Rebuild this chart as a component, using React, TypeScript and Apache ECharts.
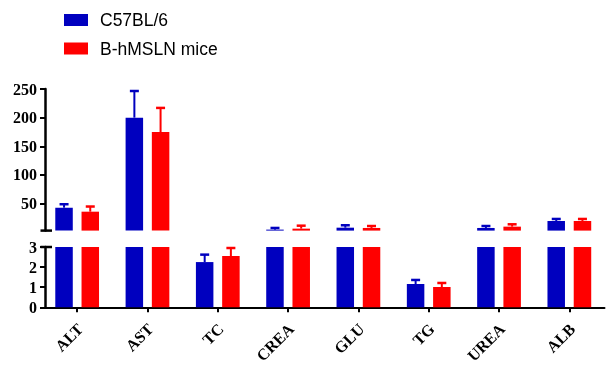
import React, { useEffect, useRef } from "react";
import * as echarts from "echarts";

const categories = ["ALT", "AST", "TC", "CREA", "GLU", "TG", "UREA", "ALB"];
const seriesNames = ["C57BL/6", "B-hMSLN mice"];
const c57Mean = [43, 200, 2.25, 4.7, 8.1, 1.16, 7.6, 19.8];
const c57Err = [6, 46.5, 0.37, 2.9, 4.2, 0.2, 3.4, 3.5];
const hmMean = [36, 175, 2.55, 6.4, 7.6, 1.01, 9.9, 19.8];
const hmErr = [9, 42, 0.4, 5.2, 3.4, 0.2, 4.1, 3.5];
const upperRange = [3, 250];
const lowerRange = [0, 3];
const lowerTickInterval = 1;

const BLUE = "#0000BF";
const RED = "#FF0000";
const SERIF = "'Liberation Serif', 'Times New Roman', serif";
const SANS = "'Liberation Sans', Arial, sans-serif";

const BAR_W = 17.5;
const OFFSET = 13.1;

function errRender(offset: number, color: string, lo: number, hi: number) {
  return (params: any, api: any) => {
    const v = api.value(1);
    const e = api.value(2);
    if (!(v > lo && v <= hi)) return null;
    const idx = api.value(0);
    const p0 = api.coord([idx, v]);
    const p1 = api.coord([idx, Math.min(v + e, hi)]);
    const x = p0[0] + offset;
    return {
      type: "group",
      children: [
        { type: "line", shape: { x1: x, y1: p0[1], x2: x, y2: p1[1] }, style: { stroke: color, lineWidth: 2 } },
        { type: "line", shape: { x1: x - 4.5, y1: p1[1], x2: x + 4.5, y2: p1[1] }, style: { stroke: color, lineWidth: 2.5 } },
      ],
    };
  };
}

export default function App() {
  const ref = useRef<HTMLDivElement>(null);
  useEffect(() => {
    if (!ref.current) return;
    const chart = echarts.init(ref.current, null, { renderer: "svg" });
    const gridL = 42;
    const gridR = 4.5;
    const labelShift = 3;
    const axisCommon = {
      axisLine: { show: true, lineStyle: { color: "#000", width: 2.5 } },
      axisTick: { show: true, length: 5, lineStyle: { color: "#000", width: 2 } },
      splitLine: { show: false },
      offset: -3,
      axisLabel: { color: "#000", fontFamily: SERIF, fontWeight: "bold", fontSize: 16, margin: 8 },
    };
    const errData = (m: number[], e: number[]) => m.map((v, i) => [i, v, e[i]]);
    const option: any = {
      animation: false,
      legend: {
        data: seriesNames,
        orient: "vertical",
        left: 64,
        top: 11,
        padding: 0,
        itemWidth: 24,
        itemHeight: 12,
        itemGap: 10.5,
        icon: "rect",
        textStyle: { fontFamily: SANS, fontSize: 17.5, color: "#000", lineHeight: 18, padding: [0, 0, 0, 7] },
      },
      grid: [
        { left: gridL, right: gridR, top: 89, height: 141.6, outerBoundsMode: "none", containLabel: false },
        { left: gridL, right: gridR, top: 247, height: 60.3, outerBoundsMode: "none", containLabel: false },
        { left: gridL + labelShift, right: gridR - labelShift, top: 247, height: 60.3, outerBoundsMode: "none", containLabel: false },
      ],
      xAxis: [
        { type: "category", gridIndex: 0, data: categories, show: false },
        {
          type: "category",
          gridIndex: 1,
          data: categories,
          axisLine: { show: true, lineStyle: { color: "#000", width: 2 } },
          axisTick: { show: true, alignWithLabel: true, length: 5, lineStyle: { color: "#000", width: 2 } },
          axisLabel: { show: false },
        },
        {
          type: "category",
          gridIndex: 2,
          data: categories,
          axisLine: { show: false },
          axisTick: { show: false },
          axisLabel: {
            color: "#000",
            fontFamily: SERIF,
            fontWeight: "bold",
            fontSize: 16,
            rotate: 45,
            margin: 19,
            interval: 0,
            padding: [6, 0, 0, 0],
          },
        },
      ],
      yAxis: [
        {
          type: "value",
          gridIndex: 0,
          min: upperRange[0],
          max: upperRange[1],
          splitNumber: 5,
          ...axisCommon,
          axisLabel: { ...axisCommon.axisLabel, showMinLabel: false },
        },
        {
          type: "value",
          gridIndex: 1,
          min: lowerRange[0],
          max: lowerRange[1],
          interval: lowerTickInterval,
          ...axisCommon,
        },
        {
          type: "value",
          gridIndex: 2,
          min: lowerRange[0],
          max: lowerRange[1],
          show: false,
        },
      ],
      series: [
        {
          name: seriesNames[0], type: "bar", xAxisIndex: 0, yAxisIndex: 0, barWidth: BAR_W, barGap: "50%",
          itemStyle: { color: BLUE }, data: c57Mean.map((v) => (v > upperRange[0] ? v : "-")),
        },
        {
          name: seriesNames[1], type: "bar", xAxisIndex: 0, yAxisIndex: 0, barWidth: BAR_W, barGap: "50%",
          itemStyle: { color: RED }, data: hmMean.map((v) => (v > upperRange[0] ? v : "-")),
        },
        {
          name: seriesNames[0], type: "bar", xAxisIndex: 1, yAxisIndex: 1, barWidth: BAR_W, barGap: "50%",
          itemStyle: { color: BLUE }, data: c57Mean,
        },
        {
          name: seriesNames[1], type: "bar", xAxisIndex: 1, yAxisIndex: 1, barWidth: BAR_W, barGap: "50%",
          itemStyle: { color: RED }, data: hmMean,
        },
        {
          name: "errA1", type: "custom", xAxisIndex: 0, yAxisIndex: 0, z: 1,
          renderItem: errRender(-OFFSET, BLUE, upperRange[0], upperRange[1]),
          encode: { x: 0, y: 1 }, data: errData(c57Mean, c57Err),
        },
        {
          name: "errB1", type: "custom", xAxisIndex: 0, yAxisIndex: 0, z: 1,
          renderItem: errRender(OFFSET, RED, upperRange[0], upperRange[1]),
          encode: { x: 0, y: 1 }, data: errData(hmMean, hmErr),
        },
        {
          name: "errA2", type: "custom", xAxisIndex: 1, yAxisIndex: 1, z: 1,
          renderItem: errRender(-OFFSET, BLUE, lowerRange[0], lowerRange[1]),
          encode: { x: 0, y: 1 }, data: errData(c57Mean, c57Err),
        },
        {
          name: "errB2", type: "custom", xAxisIndex: 1, yAxisIndex: 1, z: 1,
          renderItem: errRender(OFFSET, RED, lowerRange[0], lowerRange[1]),
          encode: { x: 0, y: 1 }, data: errData(hmMean, hmErr),
        },
      ],
    };
    chart.setOption(option);
    const yUpBottom = chart.convertToPixel({ yAxisIndex: 0 }, upperRange[0]) as number;
    const yLowTop = chart.convertToPixel({ yAxisIndex: 1 }, lowerRange[1]) as number;
    const ax = gridL + 3;
    chart.setOption({
      graphic: [
        { type: "line", shape: { x1: ax - 4.5, y1: yUpBottom, x2: ax + 7, y2: yUpBottom }, style: { stroke: "#000", lineWidth: 2.5 }, z: 10 },
        { type: "line", shape: { x1: ax - 4.5, y1: yLowTop, x2: ax + 7, y2: yLowTop }, style: { stroke: "#000", lineWidth: 2.5 }, z: 10 },
      ],
    });
    return () => chart.dispose();
  }, []);
  return <div ref={ref} style={{ position: "fixed", left: 0, top: 0, width: 609, height: 365 }} />;
}
